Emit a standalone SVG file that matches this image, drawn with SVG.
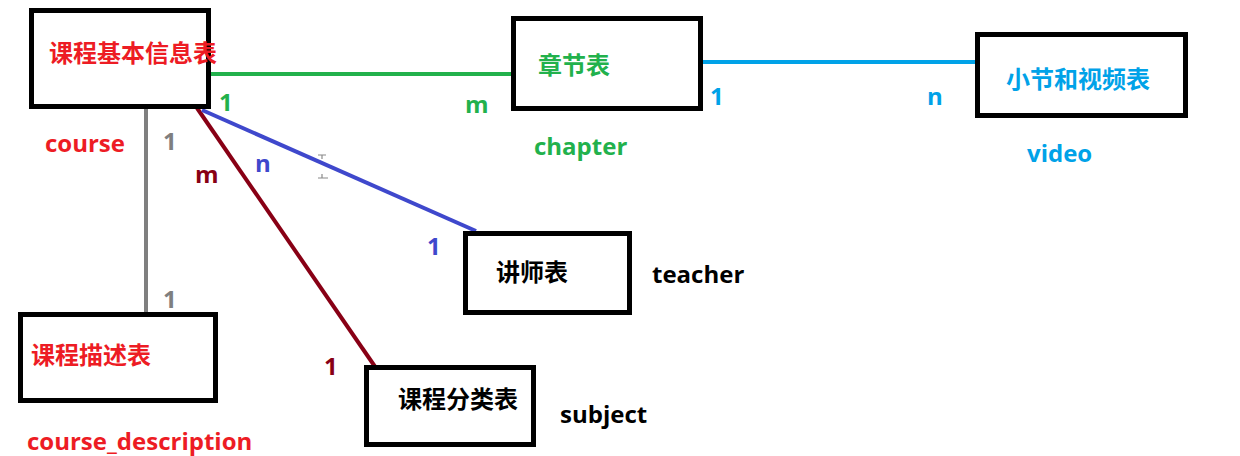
<svg xmlns="http://www.w3.org/2000/svg" width="1240" height="456" viewBox="0 0 1240 456">
  <style>
    text { font-family: "Open Sans", "Noto Sans CJK SC", sans-serif; font-weight: bold; font-size: 24px; }
    .cjk { font-family: "Noto Sans CJK SC", sans-serif; }
    .box { fill: #ffffff; stroke: #000000; stroke-width: 5; }
    .red { fill: #ed1c24; }
    .green { fill: #22b14c; }
    .cyan { fill: #00a2e8; }
    .black { fill: #000000; }
    .gray { fill: #7f7f7f; }
    .maroon { fill: #880015; }
    .indigo { fill: #3f48cc; }
    .link { fill: none; stroke-width: 4; }
  </style>
  <rect width="1240" height="456" fill="#ffffff"/>

  <!-- relationship lines -->
  <g id="connectors">
    <line class="link" x1="211" y1="74" x2="511" y2="74" stroke="#22b14c"/>
    <line class="link" x1="703" y1="62" x2="977" y2="62" stroke="#00a2e8"/>
    <line class="link" x1="146" y1="109" x2="146" y2="313" stroke="#7f7f7f"/>
    <line class="link" x1="197" y1="108" x2="378" y2="371" stroke="#880015"/>
    <line class="link" x1="202" y1="110" x2="476" y2="231" stroke="#3f48cc"/>
    <!-- cardinalities -->
    <text class="green" x="219" y="111">1</text>
    <text class="green" x="465" y="113">m</text>
    <text class="cyan" x="710" y="105">1</text>
    <text class="cyan" x="927" y="105">n</text>
    <text class="gray" x="163" y="150">1</text>
    <text class="gray" x="163" y="308">1</text>
    <text class="maroon" x="195" y="183">m</text>
    <text class="maroon" x="324" y="375">1</text>
    <text class="indigo" x="255" y="172">n</text>
    <text class="indigo" x="427" y="255">1</text>
  </g>

  <!-- small cursor marks -->
  <g id="marks" stroke="#8a8a8a" stroke-width="1.2" fill="none">
    <path d="M318 155 H326 M322 155 V159"/>
    <path d="M318 178 H328 M322 174 V178"/>
    <path d="M185 101 H190 M186 97 V101"/>
  </g>

  <g id="course">
    <rect class="box" x="31.5" y="10.5" width="177" height="96"/>
    <text class="cjk red" x="49" y="62">课程基本信息表</text>
    <text class="red" x="45" y="152">course</text>
  </g>

  <g id="chapter">
    <rect class="box" x="513.5" y="18.5" width="187" height="90"/>
    <text class="cjk green" x="538" y="74">章节表</text>
    <text class="green" x="534" y="155">chapter</text>
  </g>

  <g id="video">
    <rect class="box" x="977.5" y="34.5" width="208" height="81"/>
    <text class="cjk cyan" x="1006" y="88">小节和视频表</text>
    <text class="cyan" x="1027" y="162">video</text>
  </g>

  <g id="teacher">
    <rect class="box" x="465.5" y="233.5" width="164" height="79"/>
    <text class="cjk black" x="496" y="281">讲师表</text>
    <text class="black" x="652" y="283">teacher</text>
  </g>

  <g id="course_description">
    <rect class="box" x="20.5" y="314.5" width="195" height="86"/>
    <text class="cjk red" x="31" y="364">课程描述表</text>
    <text class="red" x="27" y="450">course_description</text>
  </g>

  <g id="subject">
    <rect class="box" x="366.5" y="367.5" width="167" height="77"/>
    <text class="cjk black" x="398" y="408">课程分类表</text>
    <text class="black" x="560" y="423">subject</text>
  </g>
</svg>
